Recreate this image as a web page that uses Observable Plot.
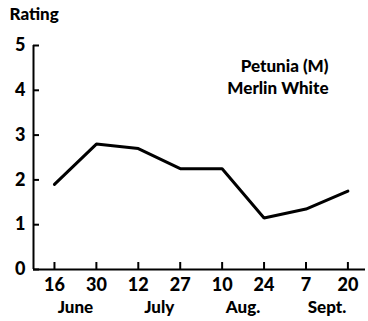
<!DOCTYPE html>
<html>
<head>
<meta charset="utf-8">
<script src="https://cdn.jsdelivr.net/npm/d3@7"></script>
<script src="https://cdn.jsdelivr.net/npm/@observablehq/plot@0.6"></script>
<style>
  html, body { margin: 0; padding: 0; background: #fff; }
  svg { display: block; }
</style>
</head>
<body>
<div id="chart"></div>
<script>
// Sampling dates (day of month) and their months
const dayLabels = ["16", "30", "12", "27", "10", "24", "7", "20"];
const monthLabels = ["June", "July", "Aug.", "Sept."];
const monthCenters = [0.5, 2.5, 4.5, 6.5];
const ratings = [1.9, 2.8, 2.7, 2.25, 2.25, 1.15, 1.35, 1.75];
const yTicks = [0, 1, 2, 3, 4, 5];
const titleLines = ["Petunia (M)", "Merlin White"];
const yLabel = "Rating";

const data = ratings.map((r, i) => ({ i, r }));
const months = monthLabels.map((m, k) => ({ m, x: monthCenters[k] }));

const font = "Lato, 'Liberation Sans', sans-serif";

const chart = Plot.plot({
  width: 368,
  height: 321,
  marginLeft: 33,
  marginRight: 3,
  marginTop: 45,
  marginBottom: 52,
  style: { fontFamily: font, fontWeight: 900, fontSize: "16px", color: "#000", background: "#fff" },
  x: { domain: [-0.5, 7.42], axis: null },
  y: { domain: [0, 5], axis: null },
  marks: [
    Plot.axisY({
      ticks: yTicks,
      tickFormat: d3.format("d"),
      tickSize: -6,
      tickPadding: 14,
      strokeWidth: 2,
      label: null,
      fontSize: 18,
      fontWeight: 900
    }),
    Plot.axisX({
      ticks: d3.range(dayLabels.length),
      tickFormat: (d) => dayLabels[d],
      tickSize: -7,
      tickPadding: 16,
      strokeWidth: 2,
      label: null,
      fontSize: 18,
      fontWeight: 900
    }),
    Plot.ruleY([0], { strokeWidth: 2 }),
    Plot.ruleX([-0.5], { y1: 0, y2: 5, strokeWidth: 2 }),
    Plot.line(data, { x: "i", y: "r", strokeWidth: 3, strokeLinejoin: "miter" }),
    Plot.text(months, {
      x: "x",
      text: "m",
      frameAnchor: "bottom",
      dy: 43,
      fontSize: 17,
      fontWeight: 900
    }),
    Plot.text([titleLines.join("\n")], {
      frameAnchor: "top-right",
      dx: -37,
      dy: 11,
      lineHeight: 1.3,
      fontSize: 17,
      fontWeight: 900,
      textAnchor: "end"
    }),
    Plot.text([yLabel], {
      frameAnchor: "top-left",
      dx: -24,
      dy: -38,
      fontSize: 17,
      fontWeight: 900,
      textAnchor: "start"
    })
  ]
});
document.getElementById("chart").append(chart);
</script>
</body>
</html>
